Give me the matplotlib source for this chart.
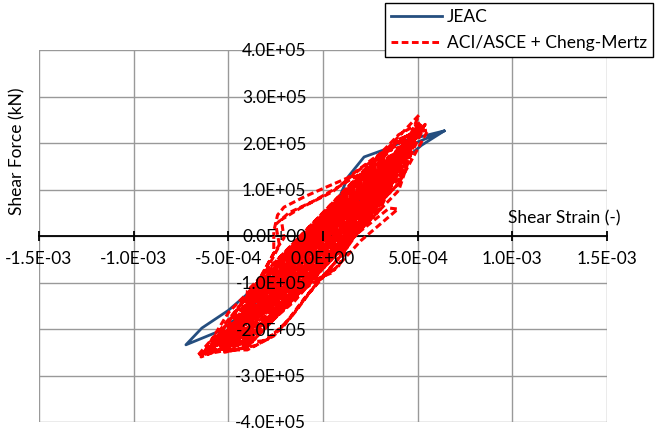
import numpy as np
import matplotlib
matplotlib.use("Agg")
import matplotlib.pyplot as plt
from matplotlib.lines import Line2D

plt.rcParams["font.family"] = ["Lato", "DejaVu Sans"]

# JEAC skeleton loop (strain x1e-4, force x1e5 kN)
jeac_path = np.array([
    (0.0, 0.0), (1.32, 1.27), (2.17, 1.70), (3.2, 1.85), (4.4, 2.06),
    (6.4, 2.26), (5.2, 1.95), (3.0, 1.2), (0.5, 0.2), (-2.0, -0.85),
    (-4.0, -1.6), (-5.5, -2.05), (-7.24, -2.34), (-6.4, -1.98),
    (-5.0, -1.6), (-3.0, -0.9), (-1.0, -0.1), (1.0, 0.6), (3.0, 1.4),
    (4.6, 1.95), (6.4, 2.26),
])

# ACI/ASCE + Cheng-Mertz time-history loops (strain x1e-4, force x1e5 kN)
aci_path = np.array([
    (0.0, 0.0), (1.0, 0.35), (2.2, 1.0), (1.0, 0.62), (-1.0, -0.22),
    (-2.0, -0.95), (-1.0, -0.92), (1.0, -0.08), (3.0, 1.25), (1.0, 0.67),
    (-1.0, -0.17), (-3.4, -1.35), (-1.5, -1.1), (0.5, -0.3), (2.5, 0.6),
    (4.2, 1.85), (3.0, 1.61), (1.0, 0.77), (-1.0, -0.07), (-3.0, -0.91),
    (-4.9, -2.1), (-3.0, -1.86), (-1.0, -1.02), (1.0, -0.18), (3.0, 0.66),
    (5.07, 2.6), (3.0, 1.71), (1.0, 0.87), (-1.0, 0.03), (-3.0, -0.81),
    (-5.0, -1.65), (-6.44, -2.6), (-4.0, -2.23), (-2.0, -1.39), (0.0, -0.55),
    (2.0, 0.29), (4.0, 1.13), (5.55, 2.28), (4.6, 2.2), (2.6, 1.65),
    (1.3, 1.25), (0.05, 1.03), (-1.0, 0.84), (-2.06, 0.62), (-2.4, 0.45),
    (-2.6, 0.1), (-2.6, -0.37), (-3.6, -1.1), (-5.4, -2.0), (-6.6, -2.56),
    (-4.0, -2.13), (-2.0, -1.29), (0.0, -0.45), (2.0, 0.39), (4.0, 1.23),
    (5.3, 2.3), (4.0, 2.08), (2.0, 1.24), (0.0, 0.4), (-2.0, -0.44),
    (-4.0, -1.28), (-5.8, -2.3), (-4.0, -2.38), (-2.0, -1.54), (-0.5, -0.95),
    (0.42, -0.8), (2.0, -0.1), (3.96, 0.58), (3.5, 0.6), (1.5, -0.05),
    (0.8, -0.67), (-0.5, -1.0), (-2.5, -1.6), (-4.86, -2.45), (-3.0, -1.96),
    (-1.0, -1.12), (1.0, -0.28), (3.0, 0.56), (4.5, 1.9), (3.0, 1.36),
    (1.0, 0.52), (-1.0, -0.32), (-3.0, -1.16), (-4.4, -1.95), (-3.0, -1.61),
    (-1.0, -0.77), (1.0, 0.07), (3.0, 0.91), (4.8, 2.2), (2.0, 1.45),
    (0.5, 0.95), (-1.2, 0.6), (-2.2, 0.35), (-2.06, -0.04), (-2.6, -0.37),
    (-3.8, -1.3), (-5.5, -2.35), (-4.0, -2.28), (-2.0, -1.44), (0.0, -0.6),
    (2.0, 0.24), (3.8, 1.6), (2.0, 1.04), (0.0, 0.2), (-2.0, -0.64),
    (-3.9, -1.65), (-2.0, -1.09), (0.0, -0.25), (2.0, 0.59), (3.3, 1.35),
    (2.0, 0.89), (0.0, 0.05), (-2.0, -0.79), (-3.0, -1.45), (-1.0, -0.97),
    (1.0, -0.13), (3.0, 0.71), (4.0, 1.75), (2.0, 1.29), (0.0, 0.45),
    (-2.0, -0.39), (-4.5, -1.9), (-3.0, -1.91), (-1.0, -1.07), (1.0, -0.23),
    (3.0, 0.61), (4.6, 2.0), (3.0, 1.56), (1.0, 0.72), (-1.0, -0.12),
    (-3.0, -0.96), (-6.0, -2.4), (-4.0, -2.08), (-2.0, -1.24), (0.0, -0.4),
    (2.0, 0.44), (4.0, 1.28), (4.9, 2.1), (4.0, 1.83), (2.0, 0.99),
    (0.0, 0.15), (-2.0, -0.69), (-4.0, -1.53), (-5.2, -2.5), (-4.0, -2.38),
    (-2.0, -1.54), (0.0, -0.7), (2.0, 0.14), (4.0, 0.98), (5.2, 2.45),
    (4.0, 2.18), (2.0, 1.34), (0.0, 0.5), (-2.0, -0.34), (-4.0, -1.18),
    (-3.6, -1.7), (-2.0, -1.14), (0.0, -0.3), (1.0, 0.12), (2.6, 1.1),
    (1.0, 0.52), (0.0, 0.1), (-1.2, -0.35), (-2.6, -1.2), (-1.0, -1.02),
    (1.0, -0.18), (3.5, 1.6), (2.0, 1.14), (0.0, 0.3), (-2.0, -0.54),
    (-5.0, -2.2), (-3.0, -1.76), (-1.0, -0.92), (1.0, -0.08), (3.0, 0.76),
    (4.3, 1.95), (3.0, 1.76), (1.0, 0.92), (-1.0, 0.08), (-3.0, -0.76),
    (-6.2, -2.5), (-4.0, -2.23), (-2.0, -1.39), (0.0, -0.55), (2.0, 0.29),
    (4.0, 1.13), (5.0, 2.3), (4.0, 2.03), (2.0, 1.19), (0.0, 0.35),
    (-2.0, -0.49), (-4.0, -1.33), (-4.0, -1.8), (-2.0, -1.29), (0.0, -0.45),
    (2.0, 0.39), (3.6, 1.5), (2.0, 1.24), (0.0, 0.4), (-2.0, -0.44),
    (-5.4, -2.3), (-4.0, -2.33), (-2.0, -1.49), (0.0, -0.65), (2.0, 0.19),
    (4.7, 2.15), (3.0, 1.46), (1.0, 0.62), (-1.0, -0.22), (-3.0, -1.06),
    (-5.0, -2.15), (-3.5, -1.57), (-1.5, -0.73), (0.5, 0.11), (2.5, 0.95),
    (4.4, 1.95), (3.5, 1.52), (1.5, 0.68), (-0.5, -0.16), (-2.5, -1.0),
    (-4.0, -1.63), (-5.6, -2.35), (-4.5, -2.19), (-2.5, -1.35), (-0.5, -0.51),
    (1.5, 0.33), (3.5, 1.17), (5.0, 2.35), (2.5, 1.2), (0.5, 0.36),
    (-1.5, -0.48), (-3.5, -1.32), (-4.2, -1.9), (-3.5, -1.67), (-1.5, -0.83),
    (0.5, 0.01), (2.5, 0.85), (3.9, 1.7), (1.5, 0.63), (-0.5, -0.21),
    (-2.5, -1.05), (-3.8, -1.72), (-2.5, -1.45), (-0.5, -0.61), (1.5, 0.23),
    (3.5, 1.07), (4.9, 2.2), (2.5, 1.25), (0.5, 0.41), (-1.5, -0.43),
    (-3.5, -1.27), (-5.3, -2.3), (-4.5, -2.04), (-2.5, -1.2), (-0.5, -0.36),
    (1.5, 0.48), (3.5, 1.32), (5.4, 2.4), (4.5, 1.99), (2.5, 1.15),
    (0.5, 0.31), (-1.5, -0.53), (-3.5, -1.37), (-5.0, -2.0), (-6.3, -2.55),
    (-5.0, -2.45), (-3.5, -1.82), (-1.5, -0.98), (0.5, -0.14), (2.5, 0.7),
    (4.0, 1.33), (5.1, 2.3), (4.0, 1.63), (2.5, 1.0), (0.5, 0.16),
    (-1.5, -0.68), (-3.5, -1.52), (-4.7, -2.1), (-2.5, -1.3), (-0.5, -0.46),
    (1.5, 0.38), (3.5, 1.22), (4.3, 1.9), (3.0, 1.51), (1.5, 0.88),
    (-0.5, 0.04), (-2.5, -0.8), (-4.0, -1.75), (-2.5, -1.55), (-0.5, -0.71),
    (1.5, 0.13), (3.0, 0.76), (4.4, 1.95), (2.5, 1.4), (0.5, 0.56),
    (-1.5, -0.28), (-3.5, -1.12), (-5.6, -2.3), (-4.0, -1.78), (-2.0, -0.94),
    (0.0, -0.1), (2.0, 0.74), (4.0, 1.58), (5.3, 2.35), (3.0, 1.16),
    (1.0, 0.32), (-1.0, -0.52), (-3.0, -1.36), (-5.0, -2.2), (-6.5, -2.55),
    (-5.0, -2.4), (-3.0, -1.56), (-1.0, -0.72), (1.0, 0.12), (3.0, 0.96),
    (4.6, 2.1), (3.5, 1.57), (1.5, 0.73), (-0.5, -0.11), (-2.5, -0.95),
    (-4.4, -1.95), (-3.0, -1.46), (-1.0, -0.62), (1.0, 0.22), (3.0, 1.06),
    (4.2, 1.85), (3.0, 1.26), (1.0, 0.42), (-1.0, -0.42), (-3.0, -1.26),
    (-5.0, -2.2), (-3.5, -1.92), (-1.5, -1.08), (0.5, -0.24), (2.5, 0.6),
    (4.0, 1.7), (2.5, 1.2), (0.5, 0.36), (-1.5, -0.48), (-3.5, -1.32),
    (-5.2, -2.5), (-3.5, -2.35), (-2.2, -2.0), (-1.0, -1.35), (0.4, -0.7),
    (2.0, 0.2), (3.5, 1.0), (4.8, 2.1), (3.0, 1.4), (1.0, 0.6),
    (-1.0, -0.3), (-3.0, -1.1), (-5.9, -2.45), (-4.0, -2.45), (-2.6, -2.15),
    (-1.5, -1.65), (-0.3, -1.0), (1.0, -0.4), (2.5, 0.45), (4.2, 1.8),
    (2.5, 1.15), (0.5, 0.3), (-1.5, -0.6), (-4.6, -2.3), (-3.0, -2.25),
    (-1.8, -1.8), (-0.6, -1.15), (0.8, -0.5), (2.2, 0.3), (3.9, 1.55),
    (3.0, 1.6), (1.0, 1.1), (-0.5, 0.75), (-1.8, 0.5), (-2.5, 0.25),
    (-2.3, -0.2), (-3.2, -0.9), (-5.0, -2.2), (-3.5, -2.1), (-1.5, -1.4),
    (0.5, -0.45), (2.0, 0.35), (3.4, 1.2), (2.5, 1.05), (0.5, 0.2),
    (-1.5, -0.75), (-5.5, -2.3), (-4.0, -1.93), (-2.0, -1.09), (0.0, -0.25),
    (1.5, 0.38), (2.5, 0.8), (3.6, 1.5), (2.5, 1.1), (1.0, 0.47),
    (-0.5, -0.2), (-3.2, -1.5), (-1.0, -0.82), (0.5, -0.2), (1.5, 0.4),
    (2.4, 0.95), (1.0, 0.45), (0.0, 0.0),
])

x_ticks = np.arange(-1.5e-3, 1.51e-3, 0.5e-3)
y_ticks = np.arange(-4e5, 4.01e5, 1e5)

fig = plt.figure(figsize=(6.57, 4.29), dpi=100)
ax = fig.add_axes([39 / 657, 7 / 429, 568 / 657, 372 / 429])
ax.set_xlim(-1.5e-3, 1.5e-3)
ax.set_ylim(-4e5, 4e5)
# tick labels sit on top of the curves, grid and axis line below them
ax.set_axisbelow(False)

for xv in x_ticks:
    ax.axvline(xv, color="#999999", lw=1.0, zorder=1)
for yv in y_ticks:
    ax.axhline(yv, color="#999999", lw=1.0, zorder=1)

ax.plot(jeac_path[:, 0] * 1e-4, jeac_path[:, 1] * 1e5, color="#254E7F",
        lw=2.0, zorder=2, label="JEAC")
ax.plot(aci_path[:, 0] * 1e-4, aci_path[:, 1] * 1e5, color="#FF0000",
        lw=2.2, dashes=(2.2, 1.1), zorder=2.2, label="ACI/ASCE + Cheng-Mertz")

for s in ["top", "right", "left"]:
    ax.spines[s].set_visible(False)
ax.spines["bottom"].set_position("zero")
ax.spines["bottom"].set_linewidth(1.3)
ax.spines["bottom"].set_zorder(1.5)
ax.spines["left"].set_position("zero")

ax.set_xticks(x_ticks)
ax.set_xticklabels([f"{v:.1E}" for v in x_ticks])
ax.set_yticks(y_ticks)
ax.set_yticklabels([f"{v:.1E}" for v in y_ticks])
ax.tick_params(axis="x", direction="inout", length=7, width=1.3, pad=7,
               labelsize=12.5, colors="black")
ax.tick_params(axis="y", length=0, pad=12, labelsize=12.5)

fig.text(17 / 657, 1 - 151 / 429, "Shear Force (kN)", rotation=90,
         ha="center", va="center", fontsize=12.5)
fig.text(564 / 657, 1 - 218 / 429, "Shear Strain (-)",
         ha="center", va="center", fontsize=12.5)

handles = [
    Line2D([], [], color="#254E7F", lw=2.0),
    Line2D([], [], color="#FF0000", lw=2.1, dashes=(2.3, 1.2)),
]
leg = fig.legend(handles, ["JEAC", "ACI/ASCE + Cheng-Mertz"],
                 loc="upper right", bbox_to_anchor=(653 / 657, 1 - 3 / 429),
                 fontsize=12.5, frameon=True, fancybox=False, framealpha=1,
                 edgecolor="black", handlelength=2.9, handletextpad=0.3,
                 labelspacing=0.55, borderpad=0.35, borderaxespad=0)
leg.get_frame().set_linewidth(1.0)

fig.savefig("out.png", dpi=100)
